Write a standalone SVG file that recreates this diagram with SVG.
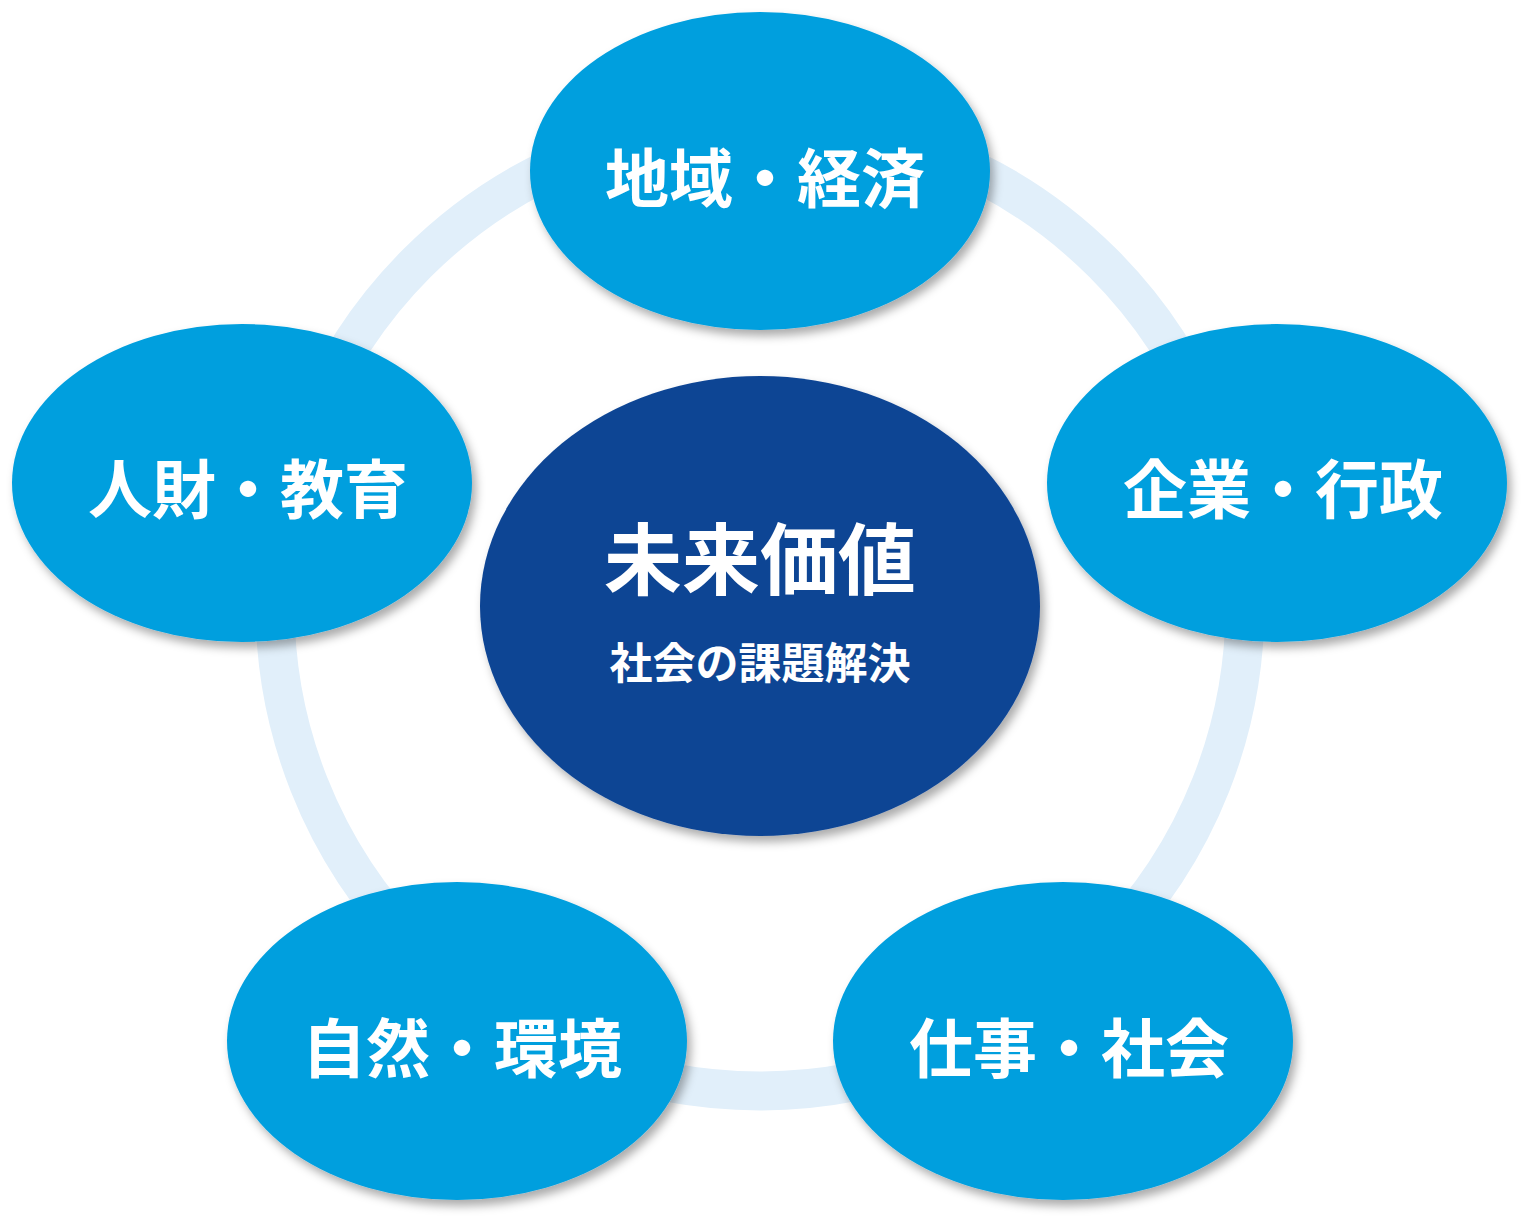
<svg xmlns="http://www.w3.org/2000/svg" width="1532" height="1226" viewBox="0 0 1532 1226">
  <style>
    .ring { fill: none; stroke: #E1EFFA; stroke-width: 39; }
    .sat { fill: #009FDE; filter: url(#shadow); }
    .core { fill: #0E4594; filter: url(#shadow); }
    .lbl { fill: #FFFFFF; font-family: "Noto Sans CJK JP", "Noto Sans CJK SC", sans-serif; font-weight: 700; text-anchor: middle; }
    .big { font-size: 64px; }
    .title { font-size: 78px; }
    .sub { font-size: 43px; }
  </style>
  <defs>
    <filter id="shadow" x="-10%" y="-10%" width="125%" height="130%">
      <feDropShadow dx="4" dy="6" stdDeviation="5" flood-color="#000000" flood-opacity="0.33"/>
    </filter>
  </defs>
  <rect width="1532" height="1226" fill="#FFFFFF"/>
  <g id="connectors">
    <circle class="ring" cx="760" cy="606" r="485"/>
  </g>
  <g id="node-top">
    <ellipse class="sat" cx="760" cy="171" rx="230" ry="159"/>
    <text class="lbl big" x="765" y="202">地域・経済</text>
  </g>
  <g id="node-left">
    <ellipse class="sat" cx="242" cy="483" rx="230" ry="159"/>
    <text class="lbl big" x="248" y="513">人財・教育</text>
  </g>
  <g id="node-right">
    <ellipse class="sat" cx="1277" cy="483" rx="230" ry="159"/>
    <text class="lbl big" x="1283" y="513">企業・行政</text>
  </g>
  <g id="node-bottom-left">
    <ellipse class="sat" cx="457" cy="1041" rx="230" ry="159"/>
    <text class="lbl big" x="462" y="1072">自然・環境</text>
  </g>
  <g id="node-bottom-right">
    <ellipse class="sat" cx="1063" cy="1041" rx="230" ry="159"/>
    <text class="lbl big" x="1069" y="1072">仕事・社会</text>
  </g>
  <g id="node-center">
    <ellipse class="core" cx="760" cy="606" rx="280" ry="230"/>
    <text class="lbl title" x="760" y="589">未来価値</text>
    <text class="lbl sub" x="760" y="679">社会の課題解決</text>
  </g>
</svg>
